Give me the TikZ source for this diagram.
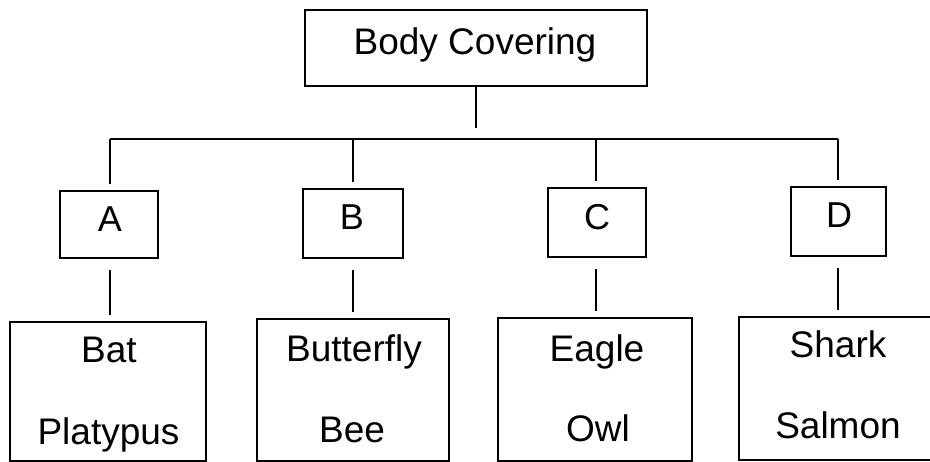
\documentclass[tikz,border=0pt]{standalone}
\usepackage{fontspec}
\setmainfont{Liberation Sans}
\begin{document}
\begin{tikzpicture}[x=1pt,y=-1pt,
  box/.style={draw=black, line width=1.6pt, inner sep=0pt, rectangle},
  txt/.style={anchor=base, inner sep=0pt, font=\fontsize{37}{40}\selectfont},
  ltr/.style={anchor=base, inner sep=0pt, font=\fontsize{36}{40}\selectfont},
  conn/.style={draw=black, line width=1.8pt}]
\useasboundingbox (0,0) rectangle (930,462);
\clip (0,0) rectangle (930,462);
% boxes
\node[box, minimum width=342pt, minimum height=76pt] (bc) at (476,48) {};
\node[box, minimum width=98pt, minimum height=67pt] (a) at (109,224.5) {};
\node[box, minimum width=100pt, minimum height=69pt] (b) at (353,223.5) {};
\node[box, minimum width=98pt, minimum height=69pt] (c) at (597,222.5) {};
\node[box, minimum width=95pt, minimum height=69pt] (d) at (838.5,221.5) {};
\node[box, minimum width=196pt, minimum height=139pt] (bat) at (108,391.5) {};
\node[box, minimum width=192pt, minimum height=142pt] (but) at (353,390) {};
\node[box, minimum width=194pt, minimum height=143pt] (eag) at (595,389.5) {};
\node[box, minimum width=201pt, minimum height=143pt] (sha) at (839.5,388.5) {};
% texts
\node[txt] (tbc) at (475,55) {Body Covering};
\node[ltr] (ta) at (110,232) {A};
\node[ltr] (tb) at (352,230) {B};
\node[ltr] (tc) at (597,230) {C};
\node[ltr] (td) at (839,228) {D};
\node[txt] (t1) at (109,363) {Bat};
\node[txt] (t2) at (108.5,445) {Platypus};
\node[txt] (t3) at (354,362) {Butterfly};
\node[txt] (t4) at (352,443) {Bee};
\node[txt] (t5) at (597,362) {Eagle};
\node[txt] (t6) at (598,442) {Owl};
\node[txt] (t7) at (838,358) {Shark};
\node[txt] (t8) at (838,439) {Salmon};
% bus
\coordinate (bl) at (110,139);
\coordinate (bm) at (476,139);
\coordinate (bb) at (353,139);
\coordinate (bcc) at (596,139);
\coordinate (br) at (838,139);
\draw[conn] (bl) -- (br);
\draw[conn, shorten >=11pt] (bc.south) -- (bm);
\draw[conn, shorten >=6pt] (bl) -- (bl |- a.north);
\draw[conn, shorten >=6pt] (bb) -- (bb |- b.north);
\draw[conn, shorten >=6pt] (bcc) -- (bcc |- c.north);
\draw[conn, shorten >=6pt] (br) -- (br |- d.north);
\draw[conn, shorten <=11pt, shorten >=6pt] (bl |- a.south) -- (bl |- bat.north);
\draw[conn, shorten <=11pt, shorten >=6pt] (bb |- b.south) -- (bb |- but.north);
\draw[conn, shorten <=11pt, shorten >=6pt] (bcc |- c.south) -- (bcc |- eag.north);
\draw[conn, shorten <=11pt, shorten >=6pt] (br |- d.south) -- (br |- sha.north);
\end{tikzpicture}
\end{document}
